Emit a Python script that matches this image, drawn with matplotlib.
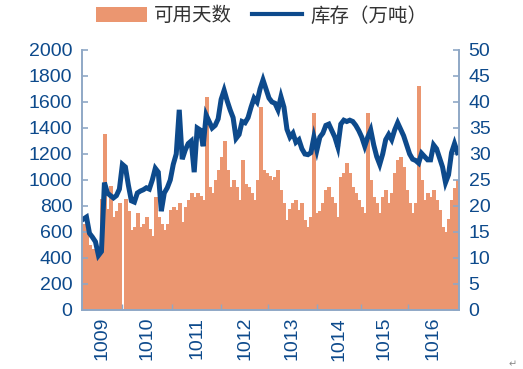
import numpy as np
import matplotlib
matplotlib.use('Agg')
import matplotlib.pyplot as plt
from matplotlib.patches import Patch
from matplotlib.lines import Line2D

plt.rcParams['font.family'] = ['Liberation Sans', 'Noto Sans CJK SC', 'DejaVu Sans']

# stock (10k tonnes), roughly weekly samples
stock = [700, 715, 590, 560, 525, 420, 450, 980, 900, 880,
         862, 880, 930, 1120, 1100, 960, 840, 830, 900, 915,
         925, 940, 930, 1000, 1090, 1060, 760, 900, 940, 1000,
         1120, 1200, 1540, 1160, 1230, 1280, 1300, 1060, 1400, 1385,
         1260, 1500, 1450, 1400, 1420, 1470, 1620, 1690, 1610, 1540,
         1480, 1320, 1350, 1450, 1440, 1480, 1560, 1630, 1600, 1700,
         1770, 1700, 1630, 1600, 1590, 1540, 1640, 1560, 1390, 1330,
         1360, 1290, 1310, 1240, 1200, 1195, 1210, 1330, 1230, 1330,
         1360, 1420, 1430, 1380, 1330, 1255, 1430, 1460, 1450, 1460,
         1450, 1420, 1380, 1330, 1260, 1330, 1385, 1270, 1180, 1120,
         1200, 1310, 1350, 1310, 1385, 1440, 1390, 1340, 1270, 1200,
         1160, 1150, 1130, 1205, 1180, 1155, 1155, 1270, 1240, 1170,
         1100, 980, 1040, 1210, 1280, 1210]

# usable days
days = [16.5, 15.5, 12.5, 11.8, 11.1, 10.3, 21.3, 33.8, 19.5, 23.8,
        17.9, 19.0, 20.6, 0, 21.3, 19.0, 15.4, 16.0, 18.7, 16.0,
        16.6, 17.9, 15.5, 14.3, 21.8, 17.9, 16.6, 15.4, 16.6, 19.3,
        19.9, 19.3, 20.6, 17.0, 19.9, 21.2, 22.5, 21.8, 22.5, 22.0,
        21.2, 41.0, 23.7, 22.5, 25.0, 26.9, 29.5, 32.5, 26.9, 23.7,
        25.0, 23.7, 21.2, 28.8, 24.3, 23.7, 22.5, 21.2, 25.0, 39.0,
        26.9, 26.3, 25.8, 25.0, 25.6, 26.9, 23.1, 20.6, 17.3, 19.5,
        20.6, 21.2, 19.3, 20.6, 17.3, 16.0, 17.9, 37.8, 18.7, 19.0,
        20.6, 23.1, 23.7, 21.8, 20.6, 17.9, 25.6, 26.3, 28.2, 26.3,
        23.7, 22.5, 21.2, 19.9, 18.7, 37.9, 25.0, 21.8, 20.6, 18.7,
        21.8, 23.1, 20.6, 22.5, 26.3, 28.8, 29.5, 27.5, 23.1, 20.6,
        18.7, 20.6, 43.0, 25.0, 21.2, 22.5, 21.8, 23.1, 21.2, 19.3,
        16.0, 15.0, 17.5, 21.2, 23.5, 25.0]

year_labels = ['1009', '1010', '1011', '1012', '1013', '1014', '1015', '1016']
year_starts = [13, 29.67, 46, 61.67, 78, 92.67, 108.33]

navy = '#0D4A8C'
salmon = '#EB9670'
spine_c = '#8FA8C6'

x = np.arange(len(stock))

fig = plt.figure(figsize=(5.23, 3.69), dpi=100)
ax = fig.add_axes([82/523, 59/369, 377/523, 260/369])
ax2 = ax.twinx()

# bars drawn edge to edge, no antialias so no white seams between them
ax2.bar(x, days, width=1.0, color=salmon, edgecolor=salmon, linewidth=0.6,
        antialiased=False)
ax.plot(x, stock, color=navy, lw=3.6, solid_joinstyle='miter')

ax.set_zorder(ax2.get_zorder() + 1)
ax.patch.set_visible(False)

ax.set_xlim(-0.5, len(stock) - 0.5)
ax.set_ylim(0, 2000)
ax2.set_ylim(0, 50)
ax.set_yticks(np.arange(0, 2001, 200))
ax2.set_yticks(np.arange(0, 51, 5))

edges = [-0.5] + year_starts + [len(stock) - 0.5]
mids = [(a + b) / 2 for a, b in zip(edges[:-1], edges[1:])]
ax.set_xticks(year_starts)
ax.set_xticklabels([])
ax.set_xticks(mids, minor=True)
ax.set_xticklabels(year_labels, minor=True, rotation=90, fontsize=14, color=navy)
ax.tick_params(axis='x', which='major', direction='in', length=4.5, color=spine_c, width=1)
ax.tick_params(axis='x', which='minor', length=0, pad=5)

ax.tick_params(axis='y', direction='in', length=4.5, color=spine_c, width=1.2,
               labelsize=14, labelcolor=navy, pad=7)
ax2.tick_params(axis='y', direction='in', length=4.5, color=spine_c, width=1.2,
                labelsize=14, labelcolor=navy, pad=7)

for a in (ax, ax2):
    for s in a.spines.values():
        s.set_color(spine_c)
        s.set_linewidth(1.2)
    a.spines['top'].set_visible(False)

handles = [Patch(facecolor=salmon, edgecolor='none'),
           Line2D([0], [0], color=navy, lw=3)]
fig.legend(handles, ['可用天数', '库存（万吨）'], loc='center', bbox_to_anchor=(0.5, 1 - 16/369),
           ncol=2, frameon=False, fontsize=14, handlelength=2.6, handleheight=0.8,
           handletextpad=0.4, columnspacing=1.0, labelcolor='#333333')

fig.text(513/523, 1 - 364/369, '↵', fontsize=7, color='#888888', ha='center', va='center',
         family=['DejaVu Sans'])

fig.savefig('out.png', dpi=100)
